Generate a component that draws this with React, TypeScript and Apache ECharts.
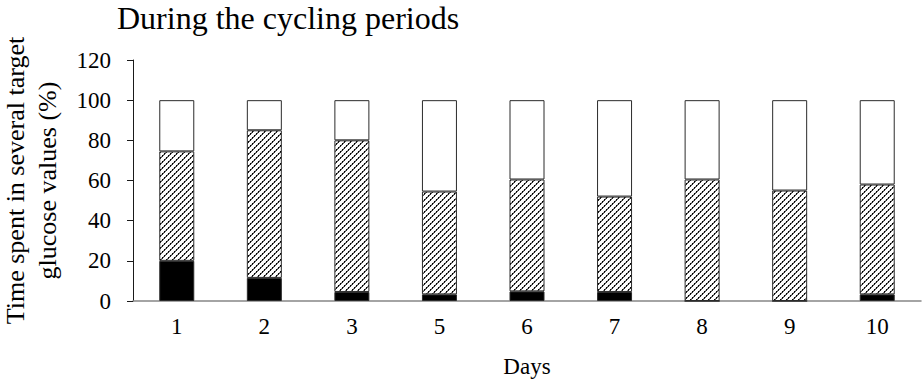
import React, { useEffect, useRef } from "react";
import * as echarts from "echarts";

// Days of the cycling periods (day 4 not recorded)
const days = ["1", "2", "3", "5", "6", "7", "8", "9", "10"];

// Share of time (%) spent in each glucose range per day
const belowTarget = [20, 11.5, 4.5, 3.3, 4.8, 4.5, 0, 0, 3.3];
const inTarget = [54.5, 73.5, 75.5, 51.2, 55.7, 47.5, 60.5, 55, 54.7];
const aboveTarget = [25.5, 15, 20, 45.5, 39.5, 48, 39.5, 45, 42];

const yTicks = { min: 0, max: 120, interval: 20 };

const FONT = "'Liberation Serif', 'Times New Roman', serif";

// Small tile with a dotted "/" diagonal used to hatch the in-target band
function makeHatchTile(): HTMLCanvasElement {
  const size = 6;
  const c = document.createElement("canvas");
  c.width = size;
  c.height = size;
  const ctx = c.getContext("2d")!;
  ctx.fillStyle = "#fff";
  ctx.fillRect(0, 0, size, size);
  for (let i = 0; i < size; i++) {
    const y = size - 1 - i;
    ctx.fillStyle = i % 2 === 0 ? "#000" : "#8a8a8a";
    ctx.fillRect(i, y, 1, 1);
    ctx.fillStyle = i % 2 === 0 ? "#5a5a5a" : "#222";
    ctx.fillRect((i + 1) % size, y, 1, 1);
  }
  return c;
}

export default function App() {
  const ref = useRef<HTMLDivElement>(null);

  useEffect(() => {
    document.body.style.margin = "0";
    if (!ref.current) return;
    const chart = echarts.init(ref.current, null, { renderer: "svg" });
    const tile = makeHatchTile();
    const hatch: any = {
      image: tile,
      repeat: "repeat",
      imageWidth: 6,
      imageHeight: 6,
    };

    const border = { borderColor: "#2b2b2b", borderWidth: 1 };

    chart.setOption({
      animation: false,
      backgroundColor: "#fff",
      title: {
        text: "During the cycling periods",
        left: 117,
        top: 2,
        padding: 0,
        textStyle: {
          fontFamily: FONT,
          fontSize: 32,
          fontWeight: "normal",
          color: "#000",
        },
      },
      grid: {
        left: 133,
        right: 1,
        top: 60,
        bottom: 80,
        outerBoundsMode: "none",
      },
      xAxis: {
        type: "category",
        data: days,
        name: "Days",
        nameLocation: "middle",
        nameGap: 54,
        nameTextStyle: { fontFamily: FONT, fontSize: 23, color: "#000" },
        axisLine: { lineStyle: { color: "#868686", width: 1.5 } },
        axisTick: { show: false },
        axisLabel: {
          fontFamily: FONT,
          fontSize: 23,
          color: "#000",
          margin: 14,
        },
      },
      yAxis: {
        type: "value",
        min: yTicks.min,
        max: yTicks.max,
        interval: yTicks.interval,
        name: "Time spent in several target\nglucose values (%)",
        nameLocation: "middle",
        nameRotate: 90,
        nameGap: 70,
        nameTextStyle: {
          fontFamily: FONT,
          fontSize: 26,
          color: "#000",
          lineHeight: 32,
        },
        axisLine: { show: true, lineStyle: { color: "#1a1a1a", width: 1 } },
        axisTick: {
          show: true,
          length: 6,
          lineStyle: { color: "#1a1a1a", width: 1 },
        },
        splitLine: { show: false },
        axisLabel: {
          fontFamily: FONT,
          fontSize: 23,
          color: "#000",
          margin: 22,
        },
      },
      series: [
        {
          name: "Below target",
          type: "bar",
          stack: "time",
          barWidth: 35,
          data: belowTarget,
          itemStyle: { color: "#000", ...border },
        },
        {
          name: "In target",
          type: "bar",
          stack: "time",
          barWidth: 35,
          data: inTarget,
          itemStyle: { color: hatch, ...border },
        },
        {
          name: "Above target",
          type: "bar",
          stack: "time",
          barWidth: 35,
          data: aboveTarget,
          itemStyle: { color: "#fff", ...border },
        },
      ],
    });

    return () => chart.dispose();
  }, []);

  return <div ref={ref} style={{ width: 922, height: 381 }} />;
}
